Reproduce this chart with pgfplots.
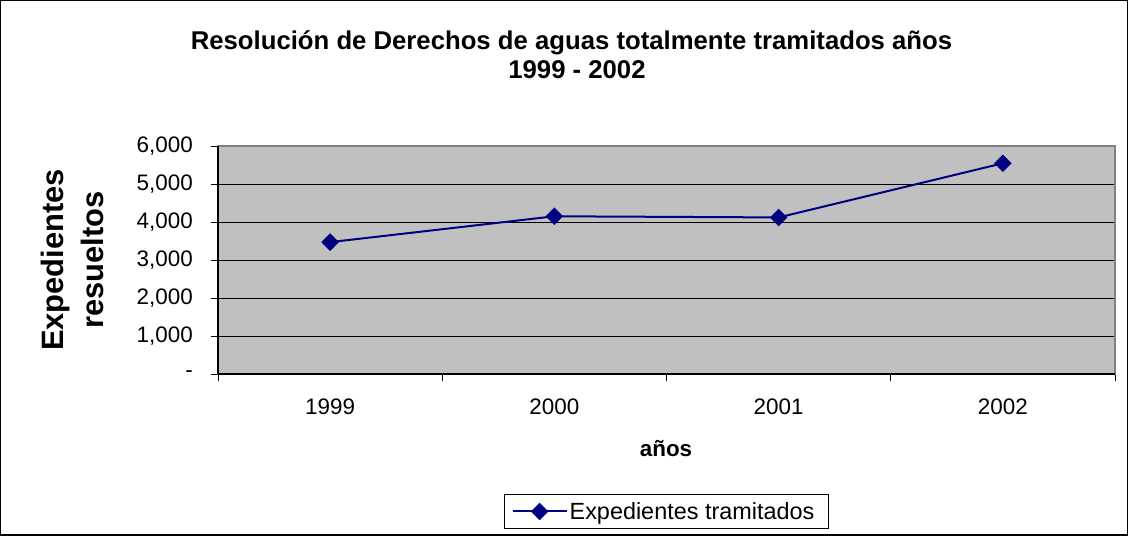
\documentclass[border=0pt]{standalone}
\usepackage{pgfplots}
\pgfplotsset{compat=1.18}
\usepackage{fontspec}
\setmainfont{Liberation Sans}
\definecolor{plotbg}{RGB}{192,192,192}
\definecolor{navyline}{RGB}{0,0,128}
\definecolor{bordergray}{RGB}{128,128,128}
\begin{document}
\begin{tikzpicture}[x=1bp,y=1bp]
\draw[black, line width=1.5bp] (0.75,0.75) rectangle (1127.25,535.25);
\useasboundingbox (0,0) rectangle (1128,536);
\node[font=\bfseries\fontsize{25.8}{30}\selectfont, anchor=base] at (571.5,486) {Resolución de Derechos de aguas totalmente tramitados años};
\node[font=\bfseries\fontsize{25.8}{30}\selectfont, anchor=base] at (577,457) {1999 - 2002};
\node[font=\bfseries\fontsize{31}{36}\selectfont, anchor=base, rotate=90] at (63,276) {Expedientes};
\node[font=\bfseries\fontsize{31}{36}\selectfont, anchor=base, rotate=90] at (103,276) {resueltos};
\node[font=\bfseries\fontsize{22.5}{27}\selectfont, anchor=base] at (666,79) {años};
\begin{axis}[
 at={(218bp,162bp)}, anchor=south west,
 width=897bp, height=228bp, scale only axis,
 xmin=0.5, xmax=4.5, ymin=0, ymax=6000,
 xtick={0.5,1.5,2.5,3.5,4.5},
 xticklabels={1999,2000,2001,2002},
 x tick label as interval,
 ytick={0,1000,2000,3000,4000,5000,6000},
 yticklabels={-,{1,000},{2,000},{3,000},{4,000},{5,000},{6,000}},
 xtick pos=left, ytick pos=left,
 tick align=outside, major tick length=7bp,
 tick style={black, line width=0.8bp},
 ymajorgrids, grid style={black, line width=0.7bp},
 axis line style={draw=bordergray, line width=1.5bp},
 axis background/.style={fill=plotbg},
 xticklabel style={font=\fontsize{22.5}{27}\selectfont, inner sep=0pt, anchor=north, yshift=-18bp},
 yticklabel style={font=\fontsize{22.5}{27}\selectfont, inner sep=0pt, anchor=east, xshift=-18bp},
 legend style={at={(0.5,-0.603)}, anchor=center, draw=black, line width=0.8bp, font=\fontsize{23.5}{27}\selectfont, inner xsep=7bp, inner ysep=6bp},
 legend cell align=left,
 legend image code/.code={\draw[#1, mark repeat=2, mark phase=2] plot coordinates {(0bp,0bp) (27bp,0bp) (54bp,0bp)};},
 clip=false,
]
\addplot[navyline, line width=2bp, mark=square*, mark size=5.2bp, mark options={rotate=45, solid, fill=navyline}] coordinates {(1,3470) (2,4150) (3,4120) (4,5545)};
\addlegendentry{Expedientes tramitados\hspace*{5bp}}
\draw[black, line width=1.2bp] (rel axis cs:0,0) -- (rel axis cs:0,1);
\draw[black, line width=1.2bp] (rel axis cs:0,0) -- (rel axis cs:1,0);
\end{axis}
\end{tikzpicture}
\end{document}
